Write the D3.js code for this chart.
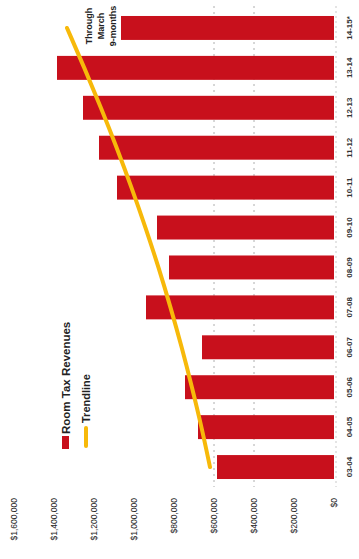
<!DOCTYPE html>
<html>
<head>
<meta charset="utf-8">
<script src="https://cdn.jsdelivr.net/npm/d3@7"></script>
<style>
  body { margin: 0; background: #fff; }
  svg { display: block; }
</style>
</head>
<body>
<svg id="chart" width="359" height="559"></svg>
<script>
// fiscal years, bottom to top in the picture
var years = ["03-04", "04-05", "05-06", "06-07", "07-08", "08-09", "09-10", "10-11", "11-12", "12-13", "13-14", "14-15*"];
var revenues = [585000, 680000, 745000, 660000, 940000, 825000, 885000, 1085000, 1175000, 1255000, 1385000, 1065000];
var trend = [620000, 662000, 710000, 761000, 817000, 877000, 942000, 1012000, 1086000, 1165000, 1248000, 1335000];
var ticks = [0, 200000, 400000, 600000, 800000, 1000000, 1200000, 1400000, 1600000];
var gridValues = [400000, 600000]; // only these show in the scan
var noteLines = ["Through", "March", "9-months"];

var svg = d3.select("#chart");
var fmt = d3.format("$,");

// chart is drawn rotated: values run right -> left, years bottom -> top
var x = d3.scaleLinear().domain([0, 1600000]).range([334, 14]);
var y = d3.scaleBand().domain(years).range([487, 8]).paddingInner(0.4).paddingOuter(0.2);

// gridlines
svg.append("g").selectAll("line")
    .data(gridValues)
    .enter().append("line")
    .attr("x1", function(d) { return x(d); })
    .attr("x2", function(d) { return x(d); })
    .attr("y1", 6)
    .attr("y2", 487)
    .attr("stroke", "#999")
    .attr("stroke-width", 0.8)
    .attr("stroke-dasharray", "2,4");

// baseline
svg.append("line")
    .attr("x1", x(0) + 2).attr("x2", x(0) + 2)
    .attr("y1", 6).attr("y2", 487)
    .attr("stroke", "#bbb")
    .attr("stroke-width", 0.8)
    .attr("stroke-dasharray", "2,3");

// bars
svg.append("g").selectAll("rect")
    .data(years)
    .enter().append("rect")
    .attr("x", function(d, i) { return x(revenues[i]); })
    .attr("y", function(d) { return y(d); })
    .attr("width", function(d, i) { return x(0) - x(revenues[i]); })
    .attr("height", y.bandwidth())
    .attr("fill", "#c8101c");

// trendline
var line = d3.line()
    .x(function(d) { return x(d); })
    .y(function(d, i) { return y(years[i]) + y.bandwidth() / 2; })
    .curve(d3.curveBasis);

svg.append("path")
    .datum(trend)
    .attr("d", line)
    .attr("fill", "none")
    .attr("stroke", "#f7b90a")
    .attr("stroke-width", 4)
    .attr("stroke-linecap", "round");

// value axis labels
svg.append("g").selectAll("text")
    .data(ticks)
    .enter().append("text")
    .attr("transform", function(d) { return "translate(" + x(d) + ",498) rotate(-90)"; })
    .attr("dy", "0.35em")
    .attr("text-anchor", "end")
    .attr("font-family", "'Liberation Sans', Arial, sans-serif")
    .attr("font-size", "8.5px")
    .attr("fill", "#222")
    .text(function(d) { return fmt(d); });

// year labels
svg.append("g").selectAll("text")
    .data(years)
    .enter().append("text")
    .attr("transform", function(d) { return "translate(349," + (y(d) + y.bandwidth() / 2) + ") rotate(-90)"; })
    .attr("dy", "0.35em")
    .attr("text-anchor", "middle")
    .attr("font-family", "'Liberation Sans', Arial, sans-serif")
    .attr("font-size", "8px")
    .attr("font-weight", "bold")
    .attr("fill", "#333")
    .text(function(d) { return d; });

// note above the partial year
var lastY = y(years[years.length - 1]) + y.bandwidth() / 2 - 2;
svg.append("g").selectAll("text")
    .data(noteLines)
    .enter().append("text")
    .attr("transform", function(d, i) { return "translate(" + (89 + i * 12) + "," + lastY + ") rotate(-90)"; })
    .attr("dy", "0.35em")
    .attr("text-anchor", "middle")
    .attr("font-family", "'Liberation Sans', Arial, sans-serif")
    .attr("font-size", "9px")
    .attr("font-weight", "bold")
    .attr("fill", "#222")
    .text(function(d) { return d; });

// legend
var legend = svg.append("g");
legend.append("rect")
    .attr("x", 62).attr("y", 436)
    .attr("width", 7).attr("height", 13)
    .attr("fill", "#c8101c");
legend.append("text")
    .attr("transform", "translate(66,434) rotate(-90)")
    .attr("dy", "0.35em")
    .attr("font-family", "'Liberation Sans', Arial, sans-serif")
    .attr("font-size", "11.5px")
    .attr("font-weight", "bold")
    .attr("fill", "#222")
    .text("Room Tax Revenues");
legend.append("line")
    .attr("x1", 86).attr("x2", 86)
    .attr("y1", 428).attr("y2", 446)
    .attr("stroke", "#f7b90a")
    .attr("stroke-width", 4)
    .attr("stroke-linecap", "round");
legend.append("text")
    .attr("transform", "translate(86,423) rotate(-90)")
    .attr("dy", "0.35em")
    .attr("font-family", "'Liberation Sans', Arial, sans-serif")
    .attr("font-size", "11px")
    .attr("font-weight", "bold")
    .attr("fill", "#222")
    .text("Trendline");
</script>
</body>
</html>
